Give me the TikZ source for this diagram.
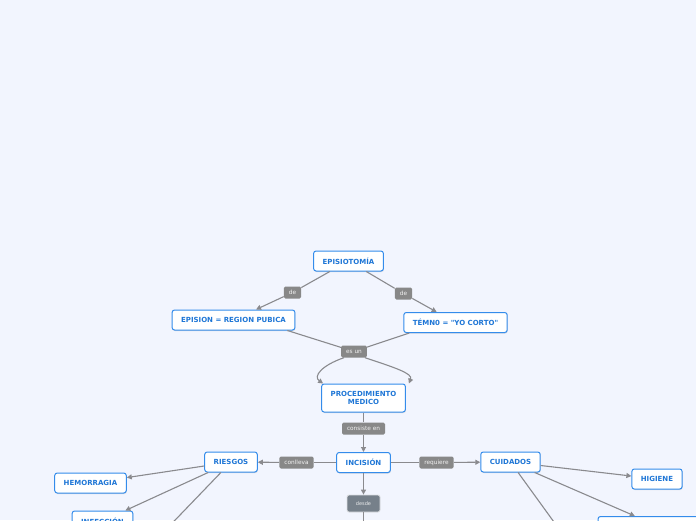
\documentclass[tikz,border=0pt]{standalone}
\usepackage{fontspec}
\setmainfont{DejaVu Sans}[Ligatures=TeXOff]
\usepackage{tikz}
\usetikzlibrary{arrows.meta,shadows}
\definecolor{mapbg}{RGB}{242,245,254}
\definecolor{topicblue}{RGB}{30,118,214}
\definecolor{topicedge}{RGB}{52,140,235}
\definecolor{lblgray}{RGB}{136,136,136}
\definecolor{linegray}{RGB}{138,138,142}
\definecolor{slate}{RGB}{118,128,138}
\tikzset{
  topic/.style={draw=topicedge, fill=white, line width=1pt, rounded corners=2.5pt,
                text=topicblue, font=\fontsize{7}{8}\selectfont\bfseries,
                minimum height=20pt, inner xsep=9pt, align=center,
                drop shadow={shadow xshift=0.5pt, shadow yshift=-1pt, opacity=0.25}},
  linklbl/.style={fill=lblgray, rounded corners=1.5pt, text=white!90!gray,
                  font=\fontsize{5.8}{6}\selectfont, minimum height=12pt,
                  inner xsep=5pt, inner ysep=1pt},
  srcbox/.style={fill=slate, draw=white!75!slate, line width=0.8pt, rounded corners=2pt,
                 text=white!85!slate, font=\fontsize{5}{6}\selectfont,
                 minimum width=33pt, minimum height=17pt},
  conn/.style={draw=linegray, line width=1.1pt},
  connarr/.style={conn, -{Triangle[length=5pt,width=5pt]}},
}
\begin{document}
\begin{tikzpicture}[x=1pt,y=-1pt]
  \useasboundingbox (0,0) rectangle (696,520);
  \fill[mapbg] (0,0) rectangle (696,520);
  \clip (0,0) rectangle (696,520);
  % --- top of the map
  \node[topic] (episio) at (348.5,261) {EPISIOTOMÍA};
  \node[topic] (epision) at (233.5,320) {EPISION = REGION PUBICA};
  \node[topic] (temno) at (455.5,322.5) {TÉMN0 = "YO CORTO"};
  \node[linklbl] (de1) at (292.5,292.5) {de};
  \node[linklbl] (de2) at (403.5,293.5) {de};
  \node[linklbl] (esun) at (354,351.5) {es un};
  % --- middle
  \node[topic, minimum height=28pt] (proc) at (363.5,398) {PROCEDIMIENTO\\MEDICO};
  \node[linklbl] (consiste) at (363.5,428.5) {consiste en};
  \node[topic] (incision) at (363.5,462.5) {INCISIÓN};
  \node[linklbl] (conlleva) at (296.5,462.5) {conlleva};
  \node[topic] (riesgos) at (231,462) {RIESGOS};
  \node[linklbl] (requiere) at (436.5,462.5) {requiere};
  \node[topic] (cuidados) at (510.5,462) {CUIDADOS};
  \node[srcbox] (desde) at (363.5,503.5) {desde};
  % --- leaves
  \node[topic] (hemorragia) at (90.5,483) {HEMORRAGIA};
  \node[topic] (infeccion) at (102.5,521) {INFECCIÓN};
  \node[topic] (higiene) at (657,479) {HIGIENE};
  \node[topic, minimum width=122pt] (cuidextra) at (659,526.5) {};
  \coordinate (riesgosend) at (155,541);
  \coordinate (cuidend) at (567,540);
  \coordinate (desdeend) at (363.5,540);
  % --- connectors
  \draw[conn] (episio) -- (de1);
  \draw[connarr] (de1) -- (epision);
  \draw[conn] (episio) -- (de2);
  \draw[connarr] (de2) -- (temno);
  \draw[conn] ([xshift=-8pt]epision.south east) -- (esun);
  \draw[conn] ([xshift=6pt]temno.south west) -- (esun);
  \draw[connarr] ([xshift=3pt]esun.south west) .. controls +(-23,8) and +(-10,-7) .. ([xshift=2pt]proc.north west);
  \draw[connarr] ([xshift=-2pt]esun.south east) .. controls +(30,10) and +(4,-10) .. ([xshift=3pt]proc.north east);
  \draw[conn] (proc) -- (consiste);
  \draw[connarr] (consiste) -- (incision);
  \draw[conn] (incision) -- (conlleva);
  \draw[connarr] (conlleva) -- (riesgos);
  \draw[conn] (incision) -- (requiere);
  \draw[connarr] (requiere) -- (cuidados);
  \draw[connarr] (incision) -- (desde);
  \draw[conn] (desde) -- (desdeend);
  \draw[connarr] (riesgos) -- (hemorragia);
  \draw[connarr] (riesgos) -- (infeccion);
  \draw[conn] (riesgos) -- (riesgosend);
  \draw[connarr] (cuidados) -- (higiene);
  \draw[connarr] (cuidados) -- (cuidextra);
  \draw[conn] (cuidados) -- (cuidend);
\end{tikzpicture}
\end{document}
